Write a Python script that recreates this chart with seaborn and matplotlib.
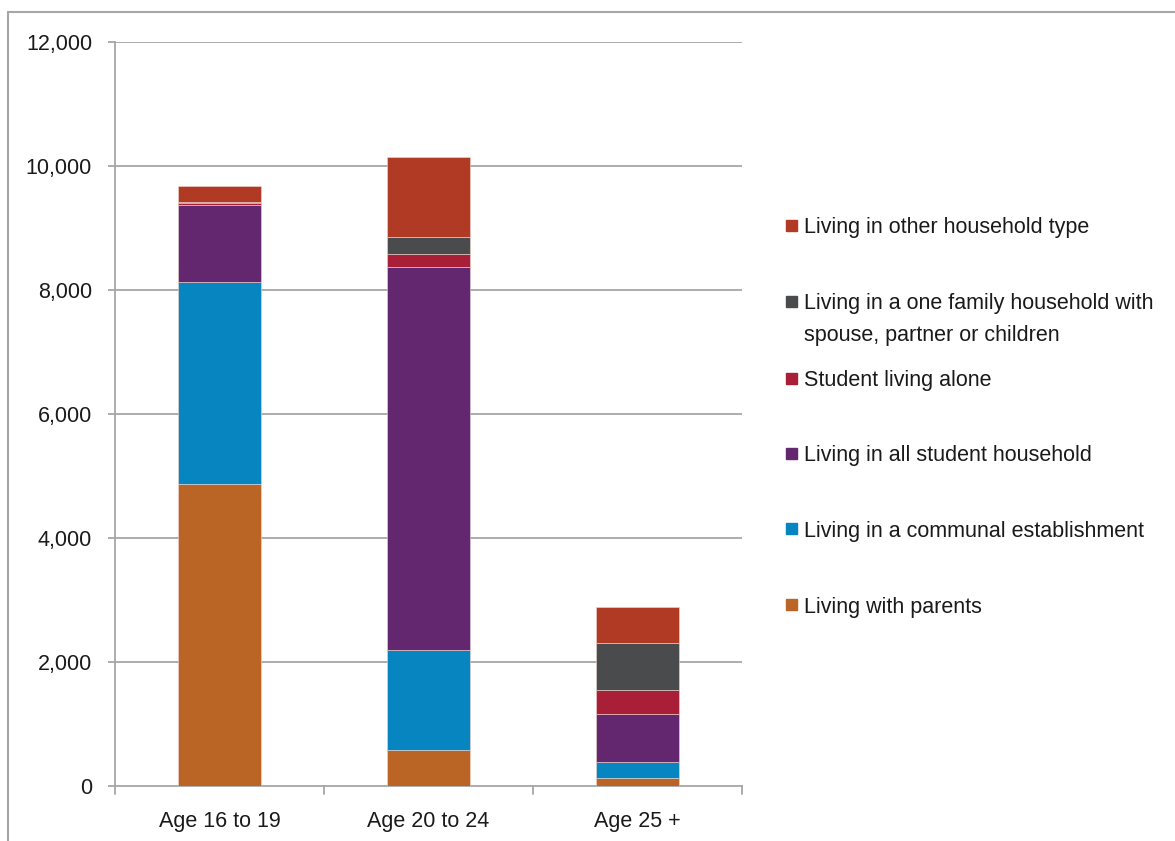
import matplotlib
matplotlib.use("Agg")
import matplotlib.pyplot as plt
from matplotlib.patches import Rectangle
import seaborn as sns
import numpy as np
from matplotlib import font_manager

categories = ["Age 16 to 19", "Age 20 to 24", "Age 25 +"]
series_names = [
    "Living with parents",
    "Living in a communal establishment",
    "Living in all student household",
    "Student living alone",
    "Living in a one family household with\nspouse, partner or children",
    "Living in other household type",
]
parents = [4870, 580, 124]
communal = [3260, 1614, 263]
student_household = [1242, 6177, 769]
student_alone = [30, 210, 392]
one_family = [25, 279, 753]
other = [258, 1280, 586]
series_values = [parents, communal, student_household, student_alone, one_family, other]
colors = ["#BA6426", "#0785C1", "#62276F", "#A91F37", "#4A4B4D", "#B03A24"]
yticks = [0, 2000, 4000, 6000, 8000, 10000, 12000]

sns.set_theme(style="white")
names = {f.name for f in font_manager.fontManager.ttflist}
fam = "Liberation Sans Narrow" if "Liberation Sans Narrow" in names else "Liberation Sans"
plt.rcParams["font.family"] = [fam, "DejaVu Sans"]

fig = plt.figure(figsize=(11.75, 8.41), dpi=100)
ax = fig.add_axes([115/1175, 1-786/841, (742-115)/1175, (786-42)/841])

grid_c = "#A6A6A6"
for t in yticks[1:]:
    ax.axhline(t, color=grid_c, lw=1.3, zorder=0)

bottom = np.zeros(len(categories))
for name, vals, c in zip(series_names, series_values, colors):
    sns.barplot(x=categories, y=vals, bottom=bottom, color=c, width=0.4,
                saturation=1, edgecolor="#f0d8d0", linewidth=0.4, ax=ax, zorder=3)
    bottom = bottom + np.array(vals)

ax.set_xlim(-0.5, 2.5)
ax.set_ylim(0, 12000)
ax.set_yticks(yticks)
ax.set_yticklabels([f"{v:,}" for v in yticks], fontsize=15.5, color="#1a1a1a")
ax.set_xticks(range(3))
ax.set_xticklabels(categories, fontsize=15.5, color="#1a1a1a")
ax.tick_params(axis="x", length=0, pad=18)
ax.tick_params(axis="y", length=5, width=1.3, color=grid_c, pad=11.5, left=True)
for b in [-0.5, 0.5, 1.5, 2.5]:
    ax.plot([b, b], [0, -0.011], transform=ax.get_xaxis_transform(), clip_on=False,
            color=grid_c, lw=1.3)
for s in ["top", "right"]:
    ax.spines[s].set_visible(False)
ax.spines["left"].set_color(grid_c)
ax.spines["left"].set_linewidth(1.3)
ax.spines["bottom"].set_color(grid_c)
ax.spines["bottom"].set_linewidth(1.3)
ax.set_xlabel("")
ax.set_ylabel("")

# Legend (reversed order, manual layout)
leg_y = [226, 302, 379, 454, 529, 605]
for i, (name, c) in enumerate(zip(series_names[::-1], colors[::-1])):
    y = leg_y[i]
    fig.add_artist(Rectangle((786/1175, 1-(y+5)/841), 11/1175, 11/841,
                             transform=fig.transFigure, color=c))
    for j, ln in enumerate(name.split("\n")):
        fig.text(804/1175, 1-(y+2+31*j)/841, ln, fontsize=15.5, color="#1a1a1a",
                 va="center", ha="left")

# outer frame
fig.add_artist(plt.Line2D([8/1175, 8/1175], [0, 1-12/841], color=grid_c, lw=1.5,
                          transform=fig.transFigure))
fig.add_artist(plt.Line2D([8/1175, 1], [1-12/841, 1-12/841], color=grid_c, lw=1.5,
                          transform=fig.transFigure))

fig.savefig("out.png", dpi=100)
